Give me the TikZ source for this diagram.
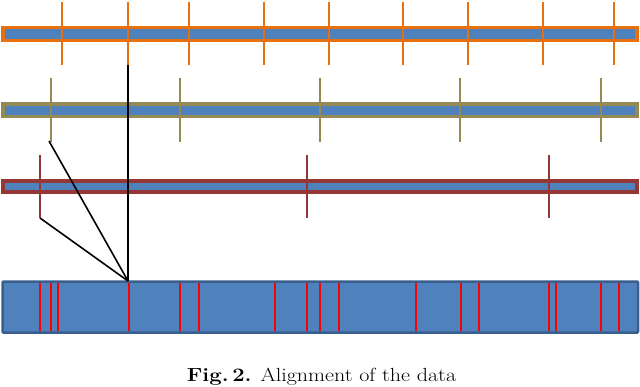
\documentclass[tikz,border=0pt]{standalone}
\usepackage{tikz}
\definecolor{barblue}{HTML}{4F81BD}
\definecolor{bardark}{HTML}{3A5F8E}
\definecolor{orng}{HTML}{E8700F}
\definecolor{olv}{HTML}{948A54}
\definecolor{dred}{HTML}{953735}
\begin{document}
\begin{tikzpicture}[x=1pt,y=-1pt,
  thinbar/.style={draw=#1,line width=3.5pt,fill=barblue},
  tickline/.style={draw=#1,line width=1.6pt},
  redmark/.style={draw=red,line width=2.2pt},
  link/.style={draw=black,line width=1.6pt}]
\useasboundingbox (0,0) rectangle (640,386);
% orange track
\draw[thinbar=orng] (3,27.5) rectangle (637,40.5);
\foreach \x in {62,128,189,264,329,403,468,543,614}
  \draw[tickline=orng] (\x,2) -- (\x,65);
\coordinate (o1) at (128,65);
% olive track
\draw[thinbar=olv] (3,104) rectangle (637,116.5);
\foreach \x in {51,180,320,460,601}
  \draw[tickline=olv] (\x,78) -- (\x,142);
\coordinate (g1) at (49,141);
% dark red track
\draw[thinbar=dred] (3,181) rectangle (637,192);
\foreach \x in {40,307,549}
  \draw[tickline=dred] (\x,155) -- (\x,218);
\coordinate (r1) at (40,218);
% bottom track
\draw[draw=bardark,line width=2.5pt,fill=barblue,rounded corners=1pt] (2.5,281.5) rectangle (638,332.5);
\foreach \x in {40,51,58,129,180,199,275,307,320,339,416,461,479,549,556,601,619}
  \draw[redmark] (\x,283) -- (\x,331);
\coordinate (b1) at (128,281);
% links
\draw[link] (o1) -- (b1);
\draw[link] (g1) -- (b1);
\draw[link] (r1) -- (b1);
% caption
\node[font=\fontsize{19}{22}\selectfont,anchor=base,xscale=1.16,inner sep=0pt] (cap) at (321.5,381) {\textbf{Fig.\,2.} Alignment of the data};
\end{tikzpicture}
\end{document}
